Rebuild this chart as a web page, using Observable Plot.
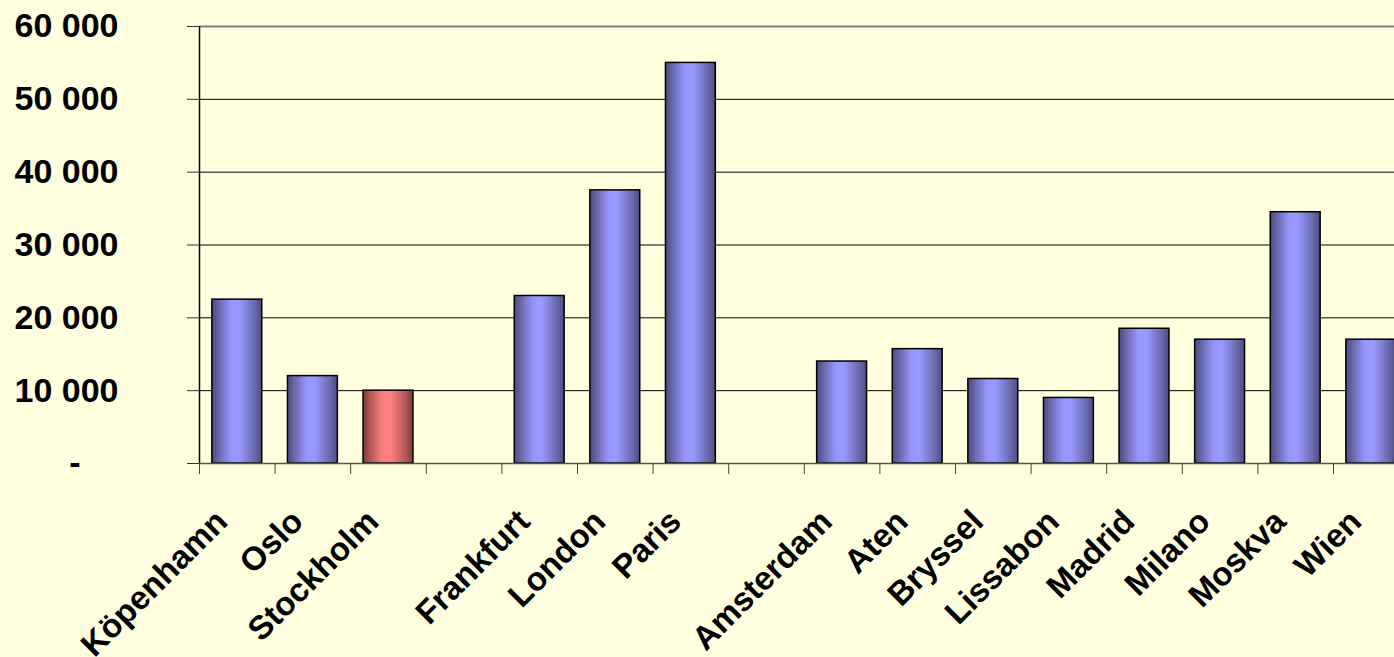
<!DOCTYPE html>
<html>
<head>
<meta charset="utf-8">
<script src="https://cdn.jsdelivr.net/npm/d3@7"></script>
<script src="https://cdn.jsdelivr.net/npm/@observablehq/plot@0.6"></script>
<style>
  html, body { margin: 0; padding: 0; background: #FFFFE0; overflow: hidden; }
  #chart svg { display: block; max-width: none !important; height: 657px !important; }
</style>
</head>
<body>
<div id="chart"></div>
<script>
// ---- data ----
const cities = ["Köpenhamn","Oslo","Stockholm","Frankfurt","London","Paris","Amsterdam","Aten","Bryssel","Lissabon","Madrid","Milano","Moskva","Wien"];
const values = [22500, 12000, 10000, 23000, 37500, 55000, 14000, 15700, 11600, 9000, 18500, 17000, 34500, 17000];
const highlight = "Stockholm";
const xSlots = ["Köpenhamn","Oslo","Stockholm","gap1","Frankfurt","London","Paris","gap2","Amsterdam","Aten","Bryssel","Lissabon","Madrid","Milano","Moskva","Wien"];
const yTicks = [0, 10000, 20000, 30000, 40000, 50000, 60000];
const yTickLabels = ["-\u2007\u2007", "10 000", "20 000", "30 000", "40 000", "50 000", "60 000"];
const gridValues = [10000, 20000, 30000, 40000, 50000];

const data = cities.map((c, i) => ({city: c, value: values[i]}));

// ---- layout ----
const W = 1420, H = 657;
const mL = 199, mT = 26, mB = 194;
const xEnd = 1408.6;
const mR = W - xEnd;
const step = (xEnd - mL) / xSlots.length;
const font = "Arial, 'Liberation Sans', sans-serif";

const chart = Plot.plot({
  width: W,
  height: H,
  marginLeft: mL,
  marginRight: mR,
  marginTop: mT,
  marginBottom: mB,
  style: {background: "#FFFFE0", fontFamily: font, color: "black", overflow: "visible"},
  x: {type: "band", domain: xSlots, paddingInner: 0.34, paddingOuter: 0.17, round: false, axis: null},
  y: {domain: [0, 60000], axis: null},
  marks: [
    Plot.ruleY(gridValues, {stroke: "black", strokeWidth: 1}),
    Plot.ruleY([60000], {stroke: "#808080", strokeWidth: 2}),
    Plot.axisY({
      ticks: yTicks,
      tickSize: 12,
      tickPadding: 69,
      tickFormat: d => yTickLabels[yTicks.indexOf(d)],
      fontSize: 34,
      fontWeight: "bold",
      stroke: "#333",
      label: null
    }),
    Plot.axisX({
      ticks: xSlots,
      tickSize: 11,
      tickFormat: () => "",
      dx: -step / 2,
      stroke: "#444",
      label: null
    }),
    Plot.ruleX([xSlots[0]], {dx: -step / 2, y1: 0, y2: 60000, stroke: "black", strokeWidth: 1.5}),
    Plot.barY(data.filter(d => d.city !== highlight), {x: "city", y: "value", fill: "url(#gBlue)", stroke: "black", strokeWidth: 1.5}),
    Plot.barY(data.filter(d => d.city === highlight), {x: "city", y: "value", fill: "url(#gRed)", stroke: "black", strokeWidth: 1.5}),
    Plot.ruleY([0], {stroke: "#555", strokeWidth: 1.5}),
    Plot.text(cities, {
      x: d => d,
      text: d => d,
      frameAnchor: "bottom",
      rotate: -45,
      textAnchor: "end",
      dy: 60,
      dx: -8,
      fontSize: 33,
      fontWeight: "bold",
      fill: "black"
    })
  ]
});

d3.select(chart).insert("defs", ":first-child").html(`
  <linearGradient id="gBlue" x1="0" y1="0" x2="1" y2="0">
    <stop offset="0" stop-color="#4a4a7c"/>
    <stop offset="0.15" stop-color="#6a6ab0"/>
    <stop offset="0.38" stop-color="#9696fc"/>
    <stop offset="0.55" stop-color="#9999ff"/>
    <stop offset="0.85" stop-color="#6a6aae"/>
    <stop offset="1" stop-color="#4c4c80"/>
  </linearGradient>
  <linearGradient id="gRed" x1="0" y1="0" x2="1" y2="0">
    <stop offset="0" stop-color="#7a3a3a"/>
    <stop offset="0.15" stop-color="#b45858"/>
    <stop offset="0.38" stop-color="#fc7e7e"/>
    <stop offset="0.55" stop-color="#ff8080"/>
    <stop offset="0.85" stop-color="#b25858"/>
    <stop offset="1" stop-color="#7c3c3c"/>
  </linearGradient>
`);

document.getElementById("chart").appendChild(chart);
</script>
</body>
</html>
